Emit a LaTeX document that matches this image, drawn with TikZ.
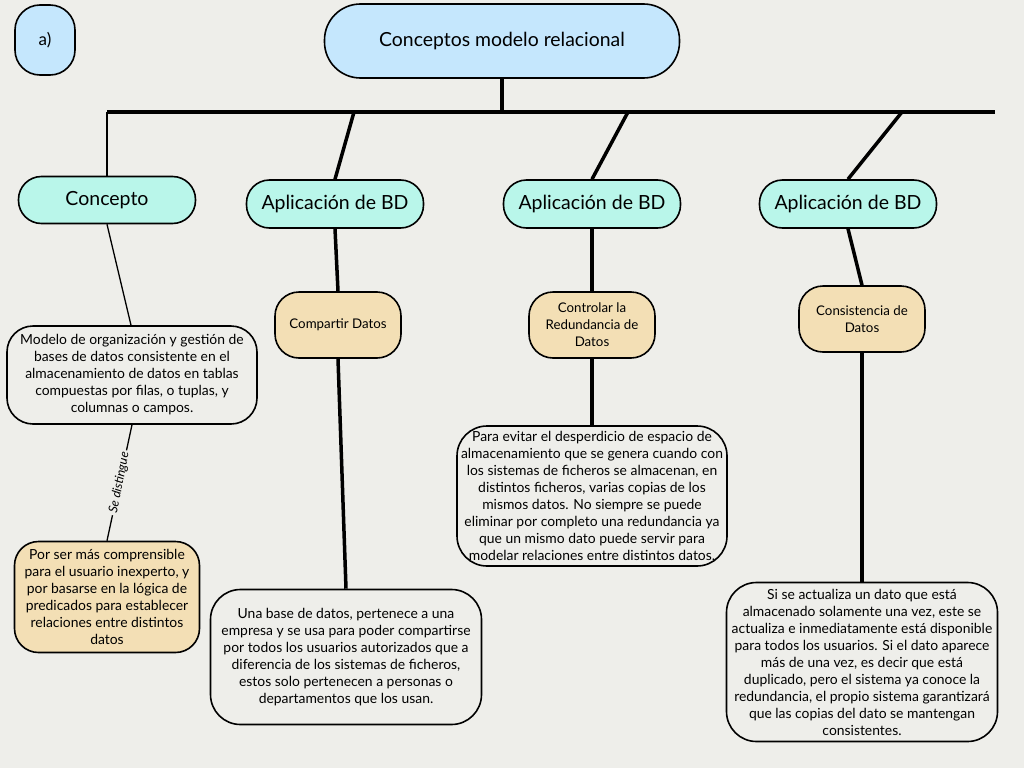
\documentclass[tikz,border=0pt]{standalone}
\usepackage{fontspec}
\setmainfont{Lato}
\usepackage{xcolor}
\definecolor{fondo}{HTML}{EEEEEA}
\definecolor{azul}{HTML}{C5E7FD}
\definecolor{menta}{HTML}{B9F6EA}
\definecolor{arena}{HTML}{F3DFB5}

\begin{document}
\begin{tikzpicture}[x=1pt,y=-1pt,
  caja/.style={draw,line width=1.6pt,align=center,inner sep=0pt},
  rama/.style={caja,fill=menta,rounded corners=23pt,minimum width=177pt,minimum height=47pt,font=\fontsize{19.5}{22}\selectfont},
  idea/.style={caja,fill=arena,rounded corners=24pt,minimum width=126pt,minimum height=66pt,font=\fontsize{13.3}{17}\selectfont},
  texto/.style={caja,fill=fondo,rounded corners=30pt,font=\fontsize{13.9}{17}\selectfont},
  gruesa/.style={line width=3.5pt},
  fina/.style={line width=1.3pt}]
\fill[fondo] (0,0) rectangle (1024,768);
\useasboundingbox (0,0) rectangle (1024,768);

% cabecera
\node[caja,fill=azul,rounded corners=25pt,minimum width=60pt,minimum height=70pt,font=\fontsize{17}{20}\selectfont] (letra) at (45,40) {a)};
\node[caja,fill=azul,rounded corners=36pt,minimum width=355pt,minimum height=74pt,font=\fontsize{19.4}{22}\selectfont] (titulo) at (502,41) {Conceptos modelo relacional};

% ramas
\node[rama] (concepto) at (107,200) {Concepto};
\node[rama,minimum height=48pt] (app1) at (335,204) {Aplicación de BD};
\node[rama,minimum height=48pt] (app2) at (592,204) {Aplicación de BD};
\node[rama,minimum height=48pt] (app3) at (848,204) {Aplicación de BD};

\node[idea] (compartir) at (338,325) {Compartir Datos};
\node[idea] (controlar) at (592,325) {Controlar la\\Redundancia de\\Datos};
\node[idea] (consistencia) at (862,319) {Consistencia de\\Datos};

% textos
\node[texto,rounded corners=26pt,minimum width=250pt,minimum height=98pt] (modelo) at (132,375)
  {Modelo de organización y gestión de\\bases de datos consistente en el\\almacenamiento de datos en tablas\\compuestas por filas, o tuplas, y\\columnas o campos.};
\node[texto,fill=arena,rounded corners=24pt,minimum width=185pt,minimum height=111pt] (porser) at (107,597)
  {Por ser más comprensible\\para el usuario inexperto, y\\por basarse en la lógica de\\predicados para establecer\\relaciones entre distintos\\datos};
\node[texto,minimum width=271pt,minimum height=135pt] (unabase) at (346,657)
  {Una base de datos, pertenece a una\\empresa y se usa para poder compartirse\\por todos los usuarios autorizados que a\\diferencia de los sistemas de ficheros,\\estos solo pertenecen a personas o\\departamentos que los usan.};
\node[texto,minimum width=270pt,minimum height=140pt] (evitar) at (592,496)
  {Para evitar el desperdicio de espacio de\\almacenamiento que se genera cuando con\\los sistemas de ficheros se almacenan, en\\distintos ficheros, varias copias de los\\mismos datos. No siempre se puede\\eliminar por completo una redundancia ya\\que un mismo dato puede servir para\\modelar relaciones entre distintos datos.};
\node[texto,minimum width=271pt,minimum height=159pt] (actualiza) at (862,662)
  {Si se actualiza un dato que está\\almacenado solamente una vez, este se\\actualiza e inmediatamente está disponible\\para todos los usuarios. Si el dato aparece\\más de una vez, es decir que está\\duplicado, pero el sistema ya conoce la\\redundancia, el propio sistema garantizará\\que las copias del dato se mantengan\\consistentes.};

% barra horizontal
\coordinate (barraIzq) at (107,112);
\coordinate (barraDer) at (995,112);
\coordinate (b1) at (354,112);
\coordinate (b2) at (628,112);
\coordinate (b3) at (902,112);
\draw[gruesa] (barraIzq) -- (barraDer);
\draw[gruesa] (titulo.south) -- (titulo.south |- barraIzq);

% conectores
\draw[fina] (barraIzq) -- (concepto.north);
\draw[gruesa] (b1) -- (app1.north);
\draw[gruesa] (b2) -- (app2.north);
\draw[gruesa] (b3) -- (app3.north);
\draw[fina] (concepto.south) -- ([xshift=-1pt]modelo.north);
\draw[fina] (modelo.south) -- node[fill=fondo,rotate=79,inner sep=2pt,font=\fontsize{12.5}{14}\selectfont\itshape] (etiqueta) {Se distingue} (porser.north);
\draw[gruesa] (app1.south) -- (compartir.north);
\draw[gruesa] (compartir.south) -- (unabase.north);
\draw[gruesa] (app2.south) -- (controlar.north);
\draw[gruesa] (controlar.south) -- (evitar.north);
\draw[gruesa] (app3.south) -- (consistencia.north);
\draw[gruesa] (consistencia.south) -- (actualiza.north);
\end{tikzpicture}
\end{document}
